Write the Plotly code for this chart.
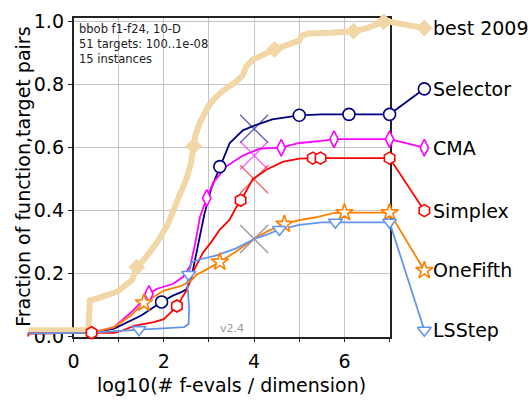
import plotly.graph_objects as go

# ---------------- data ----------------
best_x = [-1, 0.33, 0.36, 0.5, 0.97, 1.2, 1.3, 1.38, 1.45, 1.7, 1.9, 2.1, 2.2, 2.35, 2.5, 2.6,
          2.66, 2.7, 2.8, 3.0, 3.15, 3.3, 3.6, 3.75, 3.82, 3.97, 4.2, 4.45, 4.8, 5.0, 5.05,
          5.2, 5.7, 6.2, 6.5, 6.7, 6.87, 7.0, 7.77]
best_y = [0.02, 0.02, 0.115, 0.12, 0.143, 0.165, 0.18, 0.215, 0.225, 0.27, 0.31, 0.36, 0.40,
          0.45, 0.50, 0.55, 0.605, 0.64, 0.68, 0.735, 0.76, 0.78, 0.81, 0.83, 0.857, 0.88,
          0.895, 0.912, 0.93, 0.94, 0.955, 0.963, 0.965, 0.97, 0.98, 0.99, 1.0, 1.0, 0.98]
best_mx = [1.4, 2.66, 4.45, 6.2, 6.87, 7.77]
best_my = [0.22, 0.605, 0.912, 0.97, 1.0, 0.98]

sel_x = [-1, 0.4, 0.9, 1.2, 1.5, 1.95, 2.2, 2.4, 2.5, 2.6, 2.7, 2.8, 2.9, 3.05, 3.24, 3.46,
         3.75, 4.0, 4.4, 5.0, 5.5, 6.1, 7.0, 7.77]
sel_y = [0.01, 0.012, 0.025, 0.045, 0.067, 0.11, 0.13, 0.142, 0.15, 0.18, 0.25, 0.32, 0.39,
         0.47, 0.54, 0.615, 0.655, 0.67, 0.69, 0.703, 0.706, 0.706, 0.706, 0.787]
sel_mx = [1.95, 3.24, 5.0, 6.1, 7.0, 7.77]
sel_my = [0.11, 0.54, 0.703, 0.706, 0.706, 0.787]

cma_x = [-1, 0.4, 0.9, 1.3, 1.67, 1.85, 2.2, 2.43, 2.59, 2.7, 2.8, 2.95, 3.1, 3.38, 3.75,
         4.12, 4.6, 5.0, 5.5, 5.77, 7.0, 7.77]
cma_y = [0.01, 0.012, 0.03, 0.08, 0.135, 0.152, 0.167, 0.19, 0.227, 0.30, 0.38, 0.44, 0.49,
         0.54, 0.575, 0.597, 0.60, 0.615, 0.622, 0.627, 0.627, 0.60]
cma_mx = [1.67, 2.95, 4.6, 5.77, 7.0, 7.77]
cma_my = [0.135, 0.44, 0.60, 0.627, 0.627, 0.60]

spx_x = [-1, -1, 0.4, 0.9, 1.1, 1.34, 1.78, 2.0, 2.15, 2.29, 2.5, 2.65, 2.87, 3.05, 3.24,
         3.45, 3.6, 3.7, 3.97, 4.27, 4.63, 5.0, 5.3, 7.0, 7.77]
spx_y = [0.0, 0.01, 0.012, 0.012, 0.02, 0.034, 0.046, 0.055, 0.076, 0.097, 0.146, 0.206,
         0.267, 0.30, 0.34, 0.37, 0.41, 0.43, 0.50, 0.53, 0.555, 0.565, 0.567, 0.567, 0.40]
spx_mx = [0.4, 2.29, 3.7, 5.3, 5.47, 7.0, 7.77]
spx_my = [0.012, 0.097, 0.433, 0.567, 0.567, 0.567, 0.40]

one_x = [-1, 0.4, 0.9, 1.27, 1.56, 2.0, 2.37, 2.59, 2.73, 2.87, 3.24, 3.6, 4.0, 4.3, 4.67,
         5.0, 5.37, 5.75, 6.0, 7.0, 7.77]
one_y = [0.01, 0.012, 0.03, 0.067, 0.107, 0.146, 0.16, 0.176, 0.197, 0.207, 0.237, 0.27,
         0.31, 0.335, 0.357, 0.37, 0.379, 0.392, 0.394, 0.394, 0.21]
one_mx = [1.56, 3.24, 4.67, 6.0, 7.0, 7.77]
one_my = [0.107, 0.237, 0.357, 0.394, 0.394, 0.21]

lss_x = [-1, 0.4, 1.0, 1.45, 2.0, 2.45, 2.55, 2.56, 2.52, 2.55, 2.62, 2.87, 3.17, 3.6, 4.0,
         4.27, 4.56, 5.0, 5.5, 5.8, 7.0, 7.77]
lss_y = [0.01, 0.012, 0.018, 0.022, 0.025, 0.03, 0.04, 0.09, 0.17, 0.2, 0.237, 0.248, 0.258,
         0.28, 0.31, 0.323, 0.34, 0.355, 0.363, 0.363, 0.363, 0.02]
lss_mx = [1.45, 2.55, 4.56, 5.8, 7.0, 7.77]
lss_my = [0.022, 0.197, 0.34, 0.363, 0.363, 0.02]

# budget crosses (Selector, CMA, Simplex, OneFifth, LSStep)
cross_x = [4.0, 4.0, 4.0, 4.0, 4.0]
cross_y = [0.66, 0.575, 0.50, 0.31, 0.31]

names = ["best 2009", "Selector", "CMA", "Simplex", "OneFifth", "LSStep"]
label_x = 7.92
x_tickvals = [0, 1, 2, 3, 4, 5, 6, 7]
x_ticktext = ["0", "", "2", "", "4", "", "6", ""]
y_tickvals = [0.0, 0.2, 0.4, 0.6, 0.8, 1.0]
y_ticktext = ["0.0", "0.2", "0.4", "0.6", "0.8", "1.0"]
info_lines = ["bbob f1-f24, 10-D", "51 targets: 100..1e-08", "15 instances"]
version = "v2.4"

# ---------------- styles ----------------
colors = ["#F2D7A6", "#000080", "#FF00FF", "#FF0000", "#FF7F00", "#6495ED"]
symbols = ["diamond", "circle", "diamond-tall", "hexagon", "star", "triangle-down"]
msizes = [13, 12, 12, 12, 13, 12]
FONT = "DejaVu Sans"
W, H = 528, 402

# pixel geometry of the main axes box
px_x0, px_per_x = 68.3, 45.67     # pixel of x=0, pixels per unit
px_y0, px_per_y = 345.0, 329.5    # pixel of y=0, pixels per unit

def px2x(p):
    return (p - px_x0) / px_per_x

def px2y(p):
    return (px_y0 - p) / px_per_y

series = [
    (best_x, best_y, best_mx, best_my),
    (sel_x, sel_y, sel_mx, sel_my),
    (cma_x, cma_y, cma_mx, cma_my),
    (spx_x, spx_y, spx_mx, spx_my),
    (one_x, one_y, one_mx, one_my),
    (lss_x, lss_y, lss_mx, lss_my),
]

fig = go.Figure()

# dummy trace on the framed axes so the subplot is drawn
fig.add_trace(go.Scatter(x=[None], y=[None], xaxis="x", yaxis="y",
                         showlegend=False, hoverinfo="skip"))

for i, (lx, ly, mx, my) in enumerate(series):
    lw = 6 if i == 0 else 1.8
    fig.add_trace(go.Scatter(x=lx, y=ly, mode="lines", xaxis="x2", yaxis="y2",
                             line=dict(color=colors[i], width=lw),
                             showlegend=False, hoverinfo="skip"))

cross_colors = [colors[1], colors[2], colors[3], colors[4], colors[5]]
for j in range(len(cross_x)):
    fig.add_trace(go.Scatter(x=[cross_x[j]], y=[cross_y[j]], mode="markers",
                             xaxis="x2", yaxis="y2", opacity=0.6,
                             marker=dict(symbol="x-thin-open", size=28,
                                         color=cross_colors[j],
                                         line=dict(color=cross_colors[j], width=1.4)),
                             showlegend=False, hoverinfo="skip", cliponaxis=False))

for i, (lx, ly, mx, my) in enumerate(series):
    if i == 0:
        mk = dict(symbol=symbols[i], size=msizes[i], color=colors[i],
                  line=dict(color=colors[i], width=0))
    else:
        mk = dict(symbol=symbols[i], size=msizes[i], color="white",
                  line=dict(color=colors[i], width=1.6))
    fig.add_trace(go.Scatter(x=mx, y=my, mode="markers", xaxis="x2", yaxis="y2",
                             marker=mk, showlegend=False, hoverinfo="skip",
                             cliponaxis=False))

# series labels
annotations = []
for i, (lx, ly, mx, my) in enumerate(series):
    annotations.append(dict(x=label_x, y=ly[-1], xref="x2", yref="y2", text=names[i],
                            showarrow=False, xanchor="left", yanchor="middle",
                            font=dict(family=FONT, size=19, color="black")))

annotations.append(dict(x=72 / W, y=(H - 14) / H, xref="paper", yref="paper",
                        text="<br>".join(info_lines), showarrow=False, align="left",
                        xanchor="left", yanchor="top",
                        font=dict(family=FONT, size=11.5, color="#222222")))
annotations.append(dict(x=229 / W, y=(H - 337) / H, xref="paper", yref="paper",
                        text=version, showarrow=False, xanchor="center", yanchor="middle",
                        font=dict(family=FONT, size=11, color="#999999")))
annotations.append(dict(x=228 / W, y=(H - 389) / H, xref="paper", yref="paper",
                        text="log10(# f-evals / dimension)", showarrow=False,
                        xanchor="center", yanchor="middle", yshift=-6,
                        font=dict(family=FONT, size=19, color="black")))
annotations.append(dict(x=17 / W, y=(H - 178) / H, xref="paper", yref="paper",
                        text="Fraction of function,target pairs", showarrow=False,
                        textangle=-90, xanchor="center", yanchor="middle",
                        font=dict(family=FONT, size=19, color="black")))

y_top = px2y(11)
fig.update_layout(
    width=W, height=H,
    margin=dict(l=0, r=0, t=0, b=0),
    paper_bgcolor="white", plot_bgcolor="rgba(0,0,0,0)",
    font=dict(family=FONT, size=19, color="black"),
    xaxis=dict(domain=[px_x0 / W, (px_x0 + 7 * px_per_x) / W], range=[0, 7],
               anchor="y", tickmode="array", tickvals=x_tickvals, ticktext=x_ticktext,
               showgrid=True, gridcolor="#c4c4c4", gridwidth=1, zeroline=False,
               showline=True, linecolor="#222222", linewidth=1.5, mirror=True,
               ticks="outside", ticklen=4, tickcolor="#222222", ticklabelstandoff=3,
               tickfont=dict(family=FONT, size=19, color="black")),
    yaxis=dict(domain=[(H - px_y0) / H, (H - 11) / H], range=[0, y_top],
               anchor="x", tickmode="array", tickvals=y_tickvals, ticktext=y_ticktext,
               showgrid=True, gridcolor="#c4c4c4", gridwidth=1, zeroline=False,
               showline=True, linecolor="#222222", linewidth=1.5, mirror=True,
               ticks="outside", ticklen=4, tickcolor="#222222",
               tickfont=dict(family=FONT, size=19, color="black")),
    xaxis2=dict(domain=[0, 1], range=[px2x(0), px2x(W)], anchor="y2", visible=False,
                showgrid=False, zeroline=False),
    yaxis2=dict(domain=[0, 1], range=[px2y(H), px2y(0)], anchor="x2", visible=False,
                showgrid=False, zeroline=False),
    annotations=annotations,
)

fig.write_html("out.html")
